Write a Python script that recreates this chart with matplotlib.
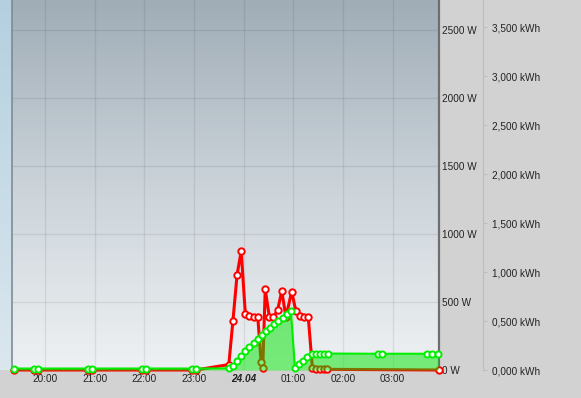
import numpy as np
import matplotlib
matplotlib.use("Agg")
import matplotlib.pyplot as plt
from matplotlib.colors import LinearSegmentedColormap

plt.rcParams["font.family"] = ["Liberation Sans", "DejaVu Sans"]

# Leistung (W), rote Linie
red_times = ["19:22", "19:47", "19:52", "20:52", "20:57", "21:57", "22:02", "22:57", "23:02",
             "23:42", "23:47", "23:52", "23:57", "00:02", "00:07", "00:12", "00:17", "00:21",
             "00:23", "00:26", "00:31", "00:36", "00:41", "00:46", "00:51", "00:58", "01:03",
             "01:08", "01:13", "01:18", "01:23", "01:27", "01:32", "01:37", "01:41", "03:56"]
red_watts = [0, 0, 0, 0, 0, 0, 0, 0, 0,
             40, 363, 701, 875, 409, 399, 392, 390, 61,
             15, 593, 390, 390, 441, 581, 390, 577, 434,
             397, 390, 390, 15, 8, 8, 8, 5, 0]

# Energie (kWh), grüne Fläche
green_times = ["19:22", "19:47", "19:52", "20:52", "20:57", "21:57", "22:02", "22:57", "23:02",
               "23:42", "23:47", "23:52", "23:57", "00:02", "00:07", "00:12", "00:17", "00:22",
               "00:27", "00:32", "00:37", "00:42", "00:47", "00:52", "00:57", "01:02", "01:07",
               "01:12", "01:17", "01:22", "01:27", "01:32", "01:37", "01:42", "02:42", "02:47",
               "03:42", "03:47", "03:55"]
green_kwh = [0.015, 0.015, 0.015, 0.015, 0.015, 0.015, 0.015, 0.015, 0.015,
             0.017, 0.041, 0.089, 0.146, 0.197, 0.238, 0.279, 0.319, 0.357,
             0.398, 0.434, 0.469, 0.505, 0.536, 0.568, 0.602, 0.017, 0.058,
             0.092, 0.130, 0.163, 0.168, 0.168, 0.168, 0.168, 0.166, 0.166,
             0.166, 0.166, 0.166]

x_ticks = [20, 21, 22, 23, 24, 25, 26, 27]
x_labels = ["20:00", "21:00", "22:00", "23:00", "24.04", "01:00", "02:00", "03:00"]
w_ticks = [0, 500, 1000, 1500, 2000, 2500]
kwh_ticks = [0, 0.5, 1.0, 1.5, 2.0, 2.5, 3.0, 3.5]


def hours(s):
    h, m = map(int, s.split(":"))
    if h < 12:
        h += 24
    return h + m / 60


tr = [hours(t) for t in red_times]
tg = [hours(t) for t in green_times]

W, H = 581, 398
fig = plt.figure(figsize=(W / 100, H / 100), dpi=100, facecolor="#d2d2d2")

# linker Streifen
strip = fig.add_axes([0, (H - 370) / H, 12 / W, 370 / H])
strip.imshow(np.linspace(1, 0, 100).reshape(-1, 1), aspect="auto",
             cmap=LinearSegmentedColormap.from_list("s", ["#dbe7ee", "#b4d0df"]),
             extent=[0, 1, 0, 1])
strip.set_axis_off()

ax = fig.add_axes([12 / W, (H - 370) / H, (439 - 12) / W, 370 / H])
x0, x1 = 19 + 20 / 60, 27 + 56 / 60
y_top = 370 / 68 * 500
ax.set_xlim(x0, x1)
ax.set_ylim(0, y_top)
bg = LinearSegmentedColormap.from_list("g", [(0, "#eef1f3"), (0.5, "#cbd3d9"), (1, "#a0adb7")])
ax.imshow(np.linspace(1, 0, 200).reshape(-1, 1), aspect="auto", zorder=0,
          cmap=bg, extent=[x0, x1, 0, y_top])

for xt in x_ticks:
    ax.axvline(xt, color="black", alpha=0.08, lw=0.9, zorder=1)
for yt in w_ticks[1:]:
    ax.axhline(yt, color="black", alpha=0.08, lw=0.9, zorder=1)

ax.plot(tr, red_watts, color="#ff0000", lw=2.2, marker="o", ms=4.6,
        mfc="white", mec="#ff0000", mew=1.4, zorder=3, clip_on=False)

for side in ["top", "bottom"]:
    ax.spines[side].set_visible(False)
ax.spines["left"].set_color("#7d8c96")
ax.spines["left"].set_linewidth(1.2)
ax.spines["right"].set_color("#6e6e6e")
ax.spines["right"].set_linewidth(1.6)

ax.set_xticks(x_ticks)
ax.set_xticklabels(x_labels)
ax.tick_params(axis="x", length=0, pad=3, labelsize=7.2, labelcolor="#222222")
for lab in ax.get_xticklabels():
    if lab.get_text() == "24.04":
        lab.set_fontstyle("italic")
        lab.set_fontweight("bold")

ax2 = ax.twinx()
ax2.set_ylim(0, 370 / 97.9)
ax2.fill_between(tg, green_kwh, color="#00e600", alpha=0.5, lw=0, zorder=2)
ax2.plot(tg, green_kwh, color="#00ee00", lw=1.5, marker="o", ms=4.4,
         mfc="white", mec="#00ee00", mew=1.4, zorder=3, clip_on=False)
for side in ["top", "bottom", "left"]:
    ax2.spines[side].set_visible(False)
ax2.spines["right"].set_position(("outward", 32))
ax2.spines["right"].set_color("#bdbdbd")
ax2.spines["right"].set_linewidth(0.8)
ax2.set_yticks(kwh_ticks)
ax2.set_yticklabels([f"{v:.3f} kWh".replace(".", ",") for v in kwh_ticks])
ax2.tick_params(axis="y", length=3, width=0.8, color="#bdbdbd", pad=3,
                labelsize=7.2, labelcolor="#222222")

# W-Achse rechts neben dem Plot (nach twinx setzen)
ax.yaxis.set_ticks_position("right")
ax.set_yticks(w_ticks)
ax.set_yticklabels([f"{v} W" for v in w_ticks])
ax.tick_params(axis="y", which="both", left=False, right=True, labelleft=False,
               labelright=True, length=0, pad=2.5, labelsize=7.2, labelcolor="#222222")

fig.savefig("out.png", dpi=100, facecolor=fig.get_facecolor())
